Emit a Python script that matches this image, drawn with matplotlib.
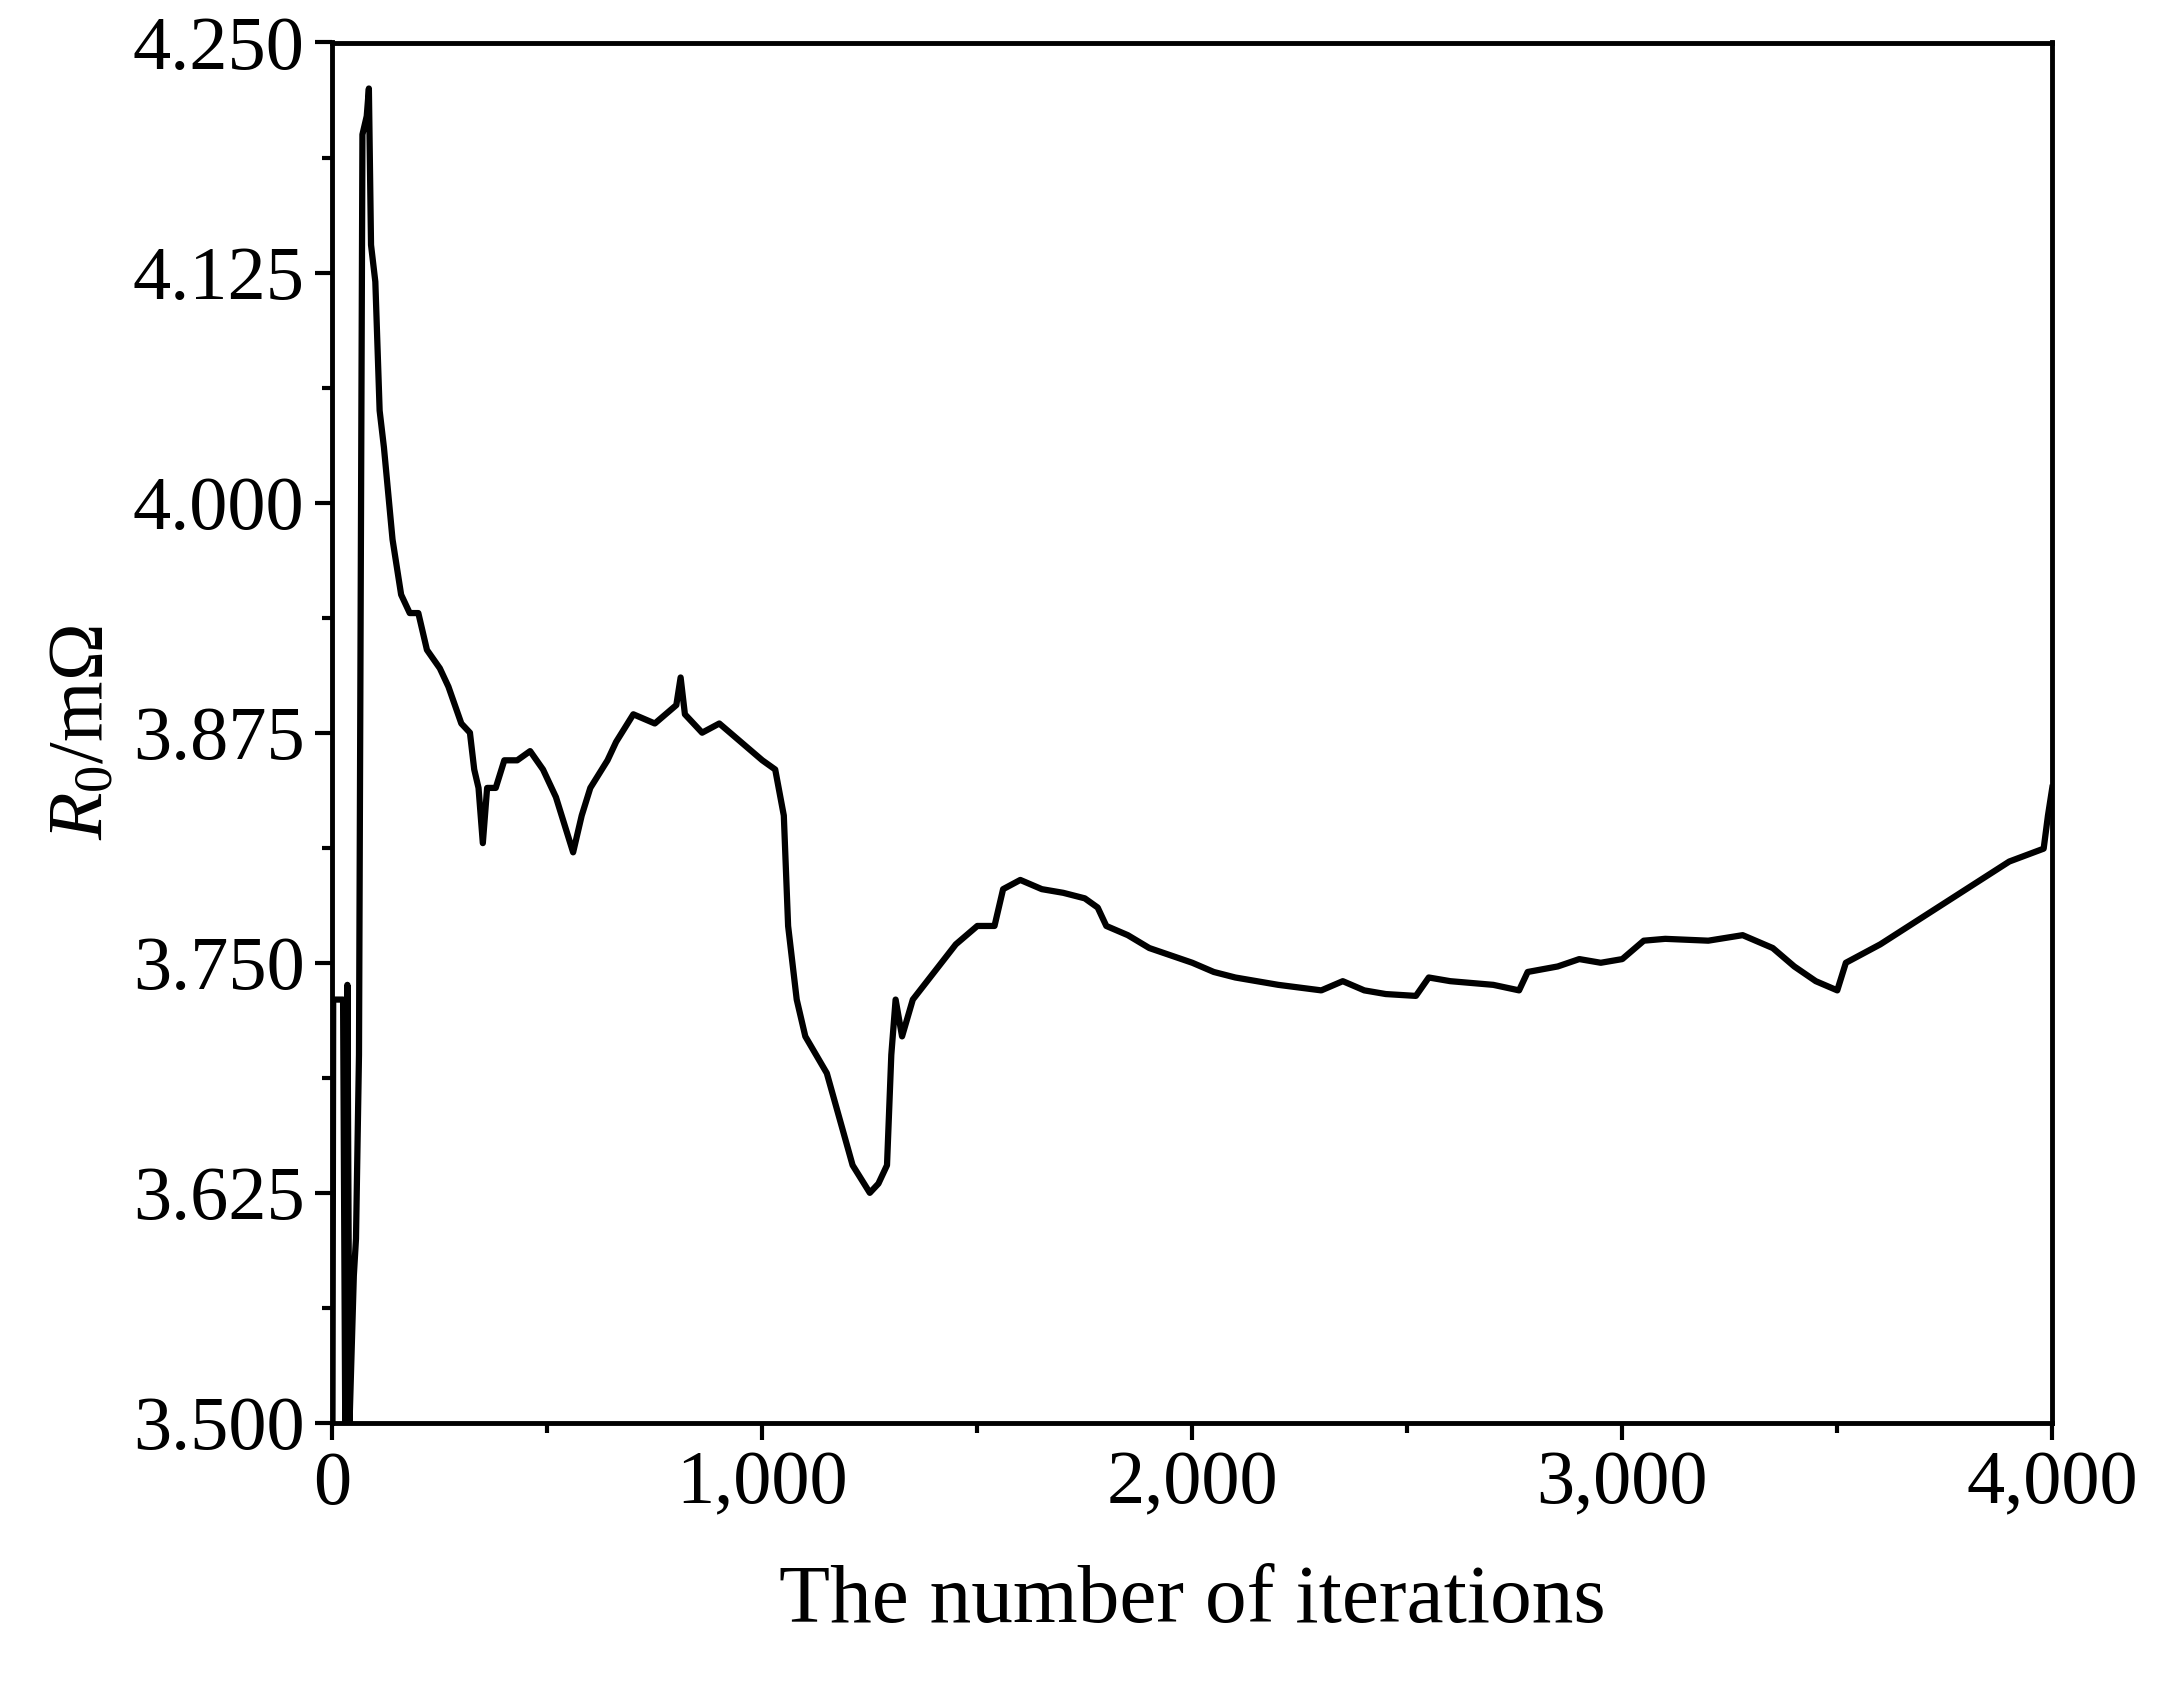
import matplotlib
matplotlib.use("Agg")
import matplotlib.pyplot as plt
from matplotlib.ticker import MultipleLocator, FuncFormatter

iters = [0,2,25,30,35,40,50,55,62,70,80,85,90,100,110,120,140,160,180,200,220,250,270,300,320,330,340,350,360,380,400,430,460,490,520,540,560,580,600,640,660,700,750,800,810,820,860,900,950,1000,1030,1050,1060,1080,1100,1150,1180,1210,1250,1270,1290,1300,1310,1325,1350,1400,1450,1500,1540,1560,1600,1650,1700,1750,1780,1800,1850,1900,2000,2050,2100,2200,2300,2350,2400,2450,2520,2550,2600,2700,2760,2780,2850,2900,2950,3000,3050,3100,3200,3280,3350,3400,3450,3500,3520,3600,3700,3800,3900,3980,3990,4000]
r0 = [3.45,3.73,3.73,3.50,3.738,3.50,3.58,3.60,3.70,4.20,4.21,4.225,4.14,4.12,4.05,4.03,3.98,3.95,3.94,3.94,3.92,3.91,3.90,3.88,3.875,3.855,3.845,3.815,3.845,3.845,3.86,3.86,3.865,3.855,3.84,3.825,3.81,3.83,3.845,3.86,3.87,3.885,3.88,3.89,3.905,3.885,3.875,3.88,3.87,3.86,3.855,3.83,3.77,3.73,3.71,3.69,3.665,3.64,3.625,3.63,3.64,3.70,3.73,3.71,3.73,3.745,3.76,3.77,3.77,3.79,3.795,3.79,3.788,3.785,3.78,3.77,3.765,3.758,3.75,3.745,3.742,3.738,3.735,3.74,3.735,3.733,3.732,3.742,3.74,3.738,3.735,3.745,3.748,3.752,3.75,3.752,3.762,3.763,3.762,3.765,3.758,3.748,3.74,3.735,3.75,3.76,3.775,3.79,3.805,3.812,3.83,3.845]

plt.rcParams['font.family'] = ['Liberation Serif', 'DejaVu Serif']
plt.rcParams['mathtext.fontset'] = 'custom'
plt.rcParams['mathtext.it'] = 'Liberation Serif:italic'
plt.rcParams['mathtext.rm'] = 'Liberation Serif'
fig = plt.figure(figsize=(21.58, 17), dpi=100)
ax = fig.add_axes([0.154, 0.163, 0.797, 0.812])
ax.plot(iters, r0, color='black', lw=4.5)
ax.set_xlim(0, 4000)
ax.set_ylim(3.5, 4.25)
ax.xaxis.set_major_locator(MultipleLocator(1000))
ax.xaxis.set_minor_locator(MultipleLocator(500))
ax.yaxis.set_major_locator(MultipleLocator(0.125))
ax.yaxis.set_minor_locator(MultipleLocator(0.0625))
ax.xaxis.set_major_formatter(FuncFormatter(lambda v, p: f"{int(v):,}"))
ax.yaxis.set_major_formatter(FuncFormatter(lambda v, p: f"{v:.3f}"))
ax.tick_params(which='both', direction='out', width=3, labelsize=55, top=False, right=False, pad=8)
ax.tick_params(which='major', length=12)
ax.tick_params(which='minor', length=7)
for s in ax.spines.values():
    s.set_linewidth(3.5)
ax.set_xlabel("The number of iterations", fontsize=60, labelpad=32)
ax.set_ylabel(r"$R_0$/mΩ", fontsize=56, labelpad=10)
fig.savefig("out.png")
